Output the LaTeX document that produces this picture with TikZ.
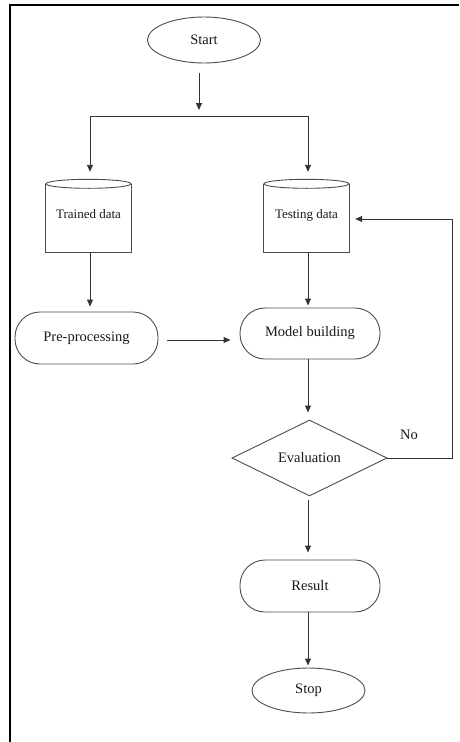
\documentclass[tikz,border=0pt]{standalone}
\usepackage{fontspec}
\setmainfont{Liberation Serif}
\usetikzlibrary{shapes.geometric,arrows.meta}
\begin{document}
\begin{tikzpicture}[x=1pt,y=-1pt,
  line/.style={draw=black!80, line width=0.9pt},
  arr/.style={line, -{Triangle[length=7pt,width=6pt]}},
  shp/.style={draw=black!70, line width=0.9pt, inner sep=0pt, text=black!90},
  term/.style={shp, ellipse, minimum width=113pt, minimum height=46pt, font=\fontsize{14.5}{16}\selectfont},
  proc/.style={shp, rectangle, rounded corners=25pt, minimum width=140pt, minimum height=52pt, font=\fontsize{14.5}{16}\selectfont},
  store/.style={rectangle, minimum width=85pt, minimum height=68pt, inner sep=0pt, text=black!90, font=\fontsize{13}{15}\selectfont},
  decision/.style={shp, diamond, aspect=2.04, minimum width=155pt, minimum height=76pt, font=\fontsize{14.5}{16}\selectfont},
  lbl/.style={inner sep=0pt, text=black!90, font=\fontsize{14.5}{16}\selectfont}
]
\useasboundingbox (0,0) rectangle (459,742);
% frame
\draw[line width=2.5pt, black] (10,742) -- (10,5) -- (459,5);

\node[term] (start) at (204,40) {Start};
\node[store] (td) at (88.5,218) {\raisebox{9pt}{Trained data}};
\node[store] (tsd) at (306.5,218) {\raisebox{9pt}{Testing data}};
\foreach \n in {td,tsd}{
  \draw[shp] (\n.north west) -- (\n.south west) -- (\n.south east) -- (\n.north east);
  \draw[shp] (\n.north) ellipse [x radius=42.5pt, y radius=4.5pt];
}
\node[proc, minimum width=143pt] (pre) at (86.5,338) {Pre-processing};
\node[proc, minimum height=51pt] (model) at (310,333.5) {Model building};
\node[decision] (eval) at (309.5,458) {Evaluation};
\node[proc] (result) at (310,586) {Result};
\node[term, minimum height=45pt] (stop) at (308.5,690.5) {Stop};
\node[lbl] (no) at (409,435) {No};

\coordinate (j) at (199,116);
\coordinate (jl) at (90,116);
\coordinate (jr) at (308,116);
\draw[arr, shorten <=10pt, shorten >=6pt] (start.south -| j) -- (j);
\draw[line] (jl) -- (jr);
\draw[arr, shorten >=12pt] (jl) -- (jl |- td.north);
\draw[arr, shorten >=12pt] (jr) -- (jr |- tsd.north);
\draw[arr, shorten >=5pt] (td.south -| jl) -- (jl |- pre.north);
\draw[arr, shorten >=2pt] (tsd.south -| jr) -- (jr |- model.north);
\draw[arr, shorten <=9pt, shorten >=9pt] (pre.east) ++(0,2) coordinate (pe) -- (pe -| model.west);
\draw[arr, shorten >=7pt] (model.south -| jr) -- (jr |- eval.north);
\draw[arr, shorten <=4pt, shorten >=7pt] (eval.south -| jr) -- (jr |- result.north);
\draw[arr, shorten >=2pt] (result.south -| jr) -- (jr |- stop.north);
\coordinate (fr) at (452,219);
\draw[arr, shorten >=6pt] (eval.east) -| (fr) -- (fr -| tsd.east);
\end{tikzpicture}
\end{document}
